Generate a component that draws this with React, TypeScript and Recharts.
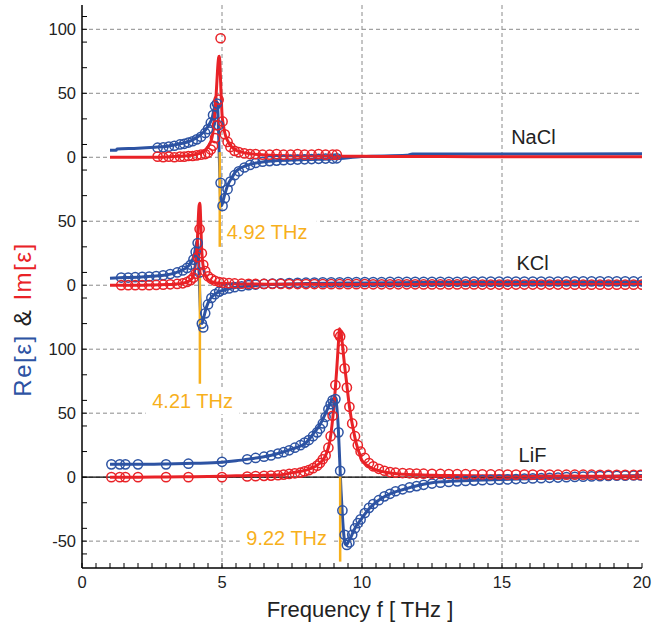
import React from 'react';
import {
  ComposedChart,
  Line,
  Scatter,
  XAxis,
  YAxis,
  CartesianGrid,
  ReferenceLine,
  ReferenceDot,
} from 'recharts';

const BLUE = '#2D53A3';
const RED = '#E92227';
const ORANGE = '#F7B01C';
const FONT = "'Liberation Sans', Arial, sans-serif";

// vertical offsets of the three stacked panels (plot units)
const OFFSET_NACL = 250;
const OFFSET_KCL = 150;
const OFFSET_LIF = 0;

// ---- NaCl ----
const naclLineF = [1.0, 1.22, 1.25, 2.0, 2.6, 3.0, 3.5, 3.9, 4.2, 4.4, 4.55, 4.65, 4.72, 4.78, 4.82, 4.86, 4.88, 4.9, 4.92, 4.94, 4.97, 5.0, 5.05, 5.1, 5.2, 5.35, 5.5, 5.7, 6.0, 6.5, 7.0, 8.0, 9.0, 10.0, 11.6, 11.8, 14.0, 17.0, 20.0];
const naclLineRe = [5.5, 5.5, 6.5, 7, 7.8, 8.5, 10.5, 13, 17, 21, 26, 31, 38, 44, 43, 32, 18, 3, -12, -28, -38, -37, -33, -29, -22, -16, -11, -8, -5.5, -3.5, -2.6, -1.8, -1.2, 0.5, 1.5, 2.5, 2.6, 2.6, 2.7];
const naclLineIm = [0, 0, 0, 0, 0.1, 0.3, 0.8, 1.5, 3, 5.5, 10, 16, 27, 45, 60, 74, 78, 79, 76, 65, 48, 34, 25, 19, 13, 8, 5.5, 4, 2.8, 1.8, 1.3, 1, 0.8, 0.7, 0.6, 0.6, 0.5, 0.5, 0.5];
const naclDotF = [2.7, 2.9, 3.1, 3.3, 3.5, 3.65, 3.8, 3.95, 4.1, 4.25, 4.4, 4.5, 4.6, 4.68, 4.75, 4.82, 4.88, 4.95, 5.02, 5.1, 5.2, 5.3, 5.45, 5.6, 5.8, 6.0, 6.2, 6.45, 6.7, 6.95, 7.2, 7.45, 7.7, 7.95, 8.2, 8.45, 8.7, 8.95, 9.1];
const naclDotRe = [7.5, 7.8, 8.3, 9, 10, 10.5, 11.5, 12.5, 14, 16, 19, 22, 27, 33, 40, 42, 25, -20, -38, -32, -25, -19, -14, -11, -8, -6, -4.5, -3.5, -3, -2.6, -2.3, -2, -1.8, -1.6, -1.4, -1.2, -1, -1, -0.8];
const naclDotIm = [0.5, 0, 0.5, 0, 0.5, 0.5, 1, 1, 1.5, 2, 2.5, 3.5, 6, 9, 15, 25, 45, 93, 28, 18, 12, 8, 5, 4, 3, 2.5, 2.5, 2, 2, 2.5, 2, 2, 2.5, 2, 2, 2.5, 2, 2, 2];

// ---- KCl ----
const kclLineF = [1.0, 1.5, 2.0, 2.5, 3.0, 3.3, 3.6, 3.8, 3.9, 3.97, 4.03, 4.08, 4.12, 4.15, 4.18, 4.21, 4.24, 4.27, 4.3, 4.35, 4.42, 4.5, 4.6, 4.75, 4.9, 5.1, 5.4, 5.8, 6.3, 7.0, 8.0, 10.0, 12.0, 15.0, 20.0];
const kclLineRe = [5.5, 6, 6.3, 7, 8, 9.5, 12, 15, 18, 21, 26, 32, 35, 28, 10, -10, -25, -30, -29, -25, -19, -14, -10, -7, -5, -3.5, -2, -1, 0, 0.8, 1.3, 1.8, 2.1, 2.3, 2.5];
const kclLineIm = [0, 0, 0, 0.2, 0.5, 0.8, 1.5, 3, 4.5, 7, 13, 22, 35, 50, 62, 64, 50, 30, 20, 12, 7, 4.5, 3, 2, 1.6, 1.3, 1.1, 1, 0.9, 0.8, 0.7, 0.6, 0.6, 0.5, 0.5];
const kclDotF = [1.4, 1.65, 1.9, 2.15, 2.4, 2.65, 2.9, 3.15, 3.4, 3.6, 3.75, 3.88, 3.98, 4.06, 4.13, 4.2, 4.28, 4.33, 4.4, 4.5, 4.62, 4.75, 4.9, 5.05, 5.25, 5.45, 5.7, 5.95, 6.2, 6.5, 6.8, 7.1, 7.4, 7.7, 8.0, 8.3, 8.6, 8.9, 9.2, 9.5, 9.8, 10.1, 10.4, 10.7, 11.0, 11.3, 11.6, 11.9, 12.2, 12.5, 12.8, 13.1, 13.4, 13.7, 14.0, 14.3, 14.6, 14.9, 15.2, 15.5, 15.8, 16.1, 16.4, 16.7, 17.0, 17.3, 17.6, 17.9, 18.2, 18.5, 18.8, 19.1, 19.4, 19.7, 20.0];
const kclDotRe = [6, 6, 6.3, 6.5, 6.8, 7.2, 7.8, 8.7, 10, 11.5, 13.5, 16, 20, 26, 33, 10, -30, -33, -22, -15, -10, -7, -5, -3.5, -2.5, -1.5, -0.8, 0, 0.5, 1, 1.3, 1.5, 1.7, 1.9, 2, 2.1, 2.2, 2.3, 2.3, 2.4, 2.4, 2.5, 2.5, 2.5, 2.6, 2.6, 2.6, 2.6, 2.7, 2.7, 2.7, 2.7, 2.7, 2.8, 2.8, 2.8, 2.8, 2.8, 2.8, 2.9, 2.9, 2.9, 2.9, 2.9, 2.9, 3, 3, 3, 3, 3, 3, 3, 3, 3, 3];
const kclDotIm = [0, 0, 0, 0, 0, 0.2, 0.4, 0.7, 1, 1.5, 2.5, 4, 6, 9, 22, 44, 25, 16, 11, 7, 5, 3.5, 2.5, 2, 1.6, 1.4, 1.2, 1.1, 1, 1, 1, 1, 0.9, 0.9, 0.9, 0.9, 0.8, 0.8, 0.8, 0.8, 0.8, 0.8, 0.7, 0.7, 0.7, 0.7, 0.7, 0.7, 0.6, 0.6, 0.6, 0.6, 0.6, 0.6, 0.6, 0.5, 0.5, 0.5, 0.5, 0.5, 0.5, 0.5, 0.5, 0.5, 0.5, 0.5, 0.4, 0.4, 0.4, 0.4, 0.4, 0.4, 0.4, 0.4, 0.4];

// ---- LiF ----
const lifLineF = [1.0, 2.0, 3.0, 4.0, 5.0, 5.5, 6.0, 6.5, 7.0, 7.5, 8.0, 8.3, 8.5, 8.7, 8.85, 8.95, 9.05, 9.1, 9.15, 9.2, 9.25, 9.3, 9.35, 9.4, 9.45, 9.5, 9.6, 9.7, 9.8, 9.9, 10.0, 10.2, 10.4, 10.7, 11.0, 11.5, 12.0, 12.5, 13.0, 14.0, 15.0, 16.0, 17.0, 18.0, 19.0, 20.0];
const lifLineRe = [10, 10, 10.3, 10.8, 11.7, 12.8, 14.3, 16, 18.5, 22, 27, 35, 41, 50, 57, 61, 62, 55, 40, 15, -10, -30, -45, -52, -53, -51, -47, -42, -38, -35, -32, -26, -21.5, -16.5, -13, -9.5, -6.5, -4.3, -3.5, -2.5, -1.8, -1.2, -0.6, 0.2, 0.8, 1.3];
const lifLineIm = [0, 0, 0.2, 0.4, 0.7, 1, 1.2, 1.4, 1.6, 3.5, 5.5, 8, 11, 17, 28, 45, 70, 85, 102, 116, 112, 104, 93, 83, 74, 64, 48, 36, 26, 19, 13, 9, 6.5, 4.5, 3.2, 2.2, 1.8, 1.5, 1.3, 1.1, 1, 0.9, 0.9, 0.8, 0.8, 0.8];
const lifDotF = [1.05, 1.35, 1.55, 2.0, 3.0, 3.8, 5.0, 5.9, 6.2, 6.5, 6.75, 7.0, 7.2, 7.4, 7.6, 7.8, 7.95, 8.1, 8.25, 8.4, 8.5, 8.6, 8.7, 8.8, 8.88, 8.95, 9.05, 9.16, 9.22, 9.3, 9.38, 9.46, 9.55, 9.65, 9.75, 9.85, 9.95, 10.1, 10.25, 10.4, 10.6, 10.8, 11.0, 11.2, 11.45, 11.7, 11.95, 12.2, 12.5, 12.8, 13.1, 13.4, 13.7, 14.0, 14.3, 14.6, 14.9, 15.2, 15.5, 15.8, 16.1, 16.4, 16.7, 17.0, 17.3, 17.6, 17.9, 18.2, 18.5, 18.8, 19.1, 19.4, 19.7, 19.95];
const lifDotRe = [10, 10, 10, 10, 10, 10.5, 12, 14, 15, 16, 17, 18.5, 19.5, 21, 23, 25, 27, 29, 32, 35, 38, 42, 47, 53, 57, 60, 61, 35, 5, -26, -45, -53, -51, -45, -40, -36, -33, -28, -24, -21, -18, -15, -13, -11, -9.5, -8, -7, -6, -5, -4.3, -3.8, -3.3, -3, -2.7, -2.4, -2.2, -2, -1.8, -1.5, -1.2, -1, -0.8, -0.5, -0.3, 0, 0.2, 0.4, 0.6, 0.8, 1, 1.1, 1.2, 1.3, 1.3];
const lifDotIm = [0, 0, 0, 0, 0, 0, 0, 0.5, 0.8, 1, 1.2, 1.5, 2, 2.5, 3, 3.5, 4.5, 5.5, 7, 9, 11, 14, 17, 23, 32, 48, 72, 112, 110, 100, 85, 70, 55, 42, 32, 25, 20, 15, 11, 8.5, 6.5, 5, 4, 3.5, 3.2, 3, 2.8, 2.7, 2.6, 2.5, 2.4, 2.3, 2.3, 2.2, 2.2, 2.1, 2.1, 2, 2, 2, 2, 2, 2, 1.9, 1.9, 1.9, 1.9, 1.9, 1.8, 1.8, 1.8, 1.8, 1.8, 1.8];

// resonance markers: vertical segment (top/bottom) and label position, in plot units
const resonances = [
  { f: 4.92, top: 254, bottom: 180, label: '4.92 THz', lx: 5.17, ly: 186, anchor: 'start' },
  { f: 4.21, top: 158, bottom: 73, label: '4.21 THz', lx: 3.95, ly: 54, anchor: 'middle' },
  { f: 9.22, top: 0.5, bottom: -66, label: '9.22 THz', lx: 7.31, ly: -53, anchor: 'middle' },
];

const materials = [
  { name: 'NaCl', x: 16.12, y: 260.4 },
  { name: 'KCl', x: 16.09, y: 161.9 },
  { name: 'LiF', x: 16.09, y: 12.1 },
];

// axis ticks
const xMajor = [0, 5, 10, 15, 20];
const xTicks = Array.from({ length: 41 }, (_, i) => i * 0.5);
const yMajor = [-50, 0, 50, 100, 150, 200, 250, 300, 350];
const yMajorLabels = ['-50', '0', '50', '100', '0', '50', '0', '50', '100'];
const yMinor = Array.from({ length: 22 }, (_, i) => -60 + i * 20);
const yTicks = Array.from(new Set([...yMajor, ...yMinor])).sort((a, b) => a - b);

const build = (f: number[], v: number[], off: number) => f.map((x, i) => ({ x, y: v[i] + off }));

const lines = [
  { key: 'naclRe', data: build(naclLineF, naclLineRe, OFFSET_NACL), color: BLUE },
  { key: 'naclIm', data: build(naclLineF, naclLineIm, OFFSET_NACL), color: RED },
  { key: 'kclRe', data: build(kclLineF, kclLineRe, OFFSET_KCL), color: BLUE },
  { key: 'kclIm', data: build(kclLineF, kclLineIm, OFFSET_KCL), color: RED },
  { key: 'lifRe', data: build(lifLineF, lifLineRe, OFFSET_LIF), color: BLUE },
  { key: 'lifIm', data: build(lifLineF, lifLineIm, OFFSET_LIF), color: RED },
];

const dots = [
  { key: 'naclReD', data: build(naclDotF, naclDotRe, OFFSET_NACL), color: BLUE },
  { key: 'naclImD', data: build(naclDotF, naclDotIm, OFFSET_NACL), color: RED },
  { key: 'kclReD', data: build(kclDotF, kclDotRe, OFFSET_KCL), color: BLUE },
  { key: 'kclImD', data: build(kclDotF, kclDotIm, OFFSET_KCL), color: RED },
  { key: 'lifReD', data: build(lifDotF, lifDotRe, OFFSET_LIF), color: BLUE },
  { key: 'lifImD', data: build(lifDotF, lifDotIm, OFFSET_LIF), color: RED },
];

const openCircle = (color: string) => (props: any) => (
  <circle cx={props.cx} cy={props.cy} r={4.6} fill="none" stroke={color} strokeWidth={1.5} />
);

const YTitle = (props: any) => {
  const vb = props.viewBox || { x: 0, y: 0, height: 0 };
  const cx = vb.x + 9;
  const cy = vb.y + vb.height / 2 + 33;
  return (
    <text
      x={0}
      y={0}
      transform={`translate(${cx},${cy}) rotate(-90)`}
      textAnchor="middle"
      fontSize={24}
      letterSpacing={1.5}
      fontFamily={FONT}
    >
      <tspan fill={BLUE}>Re[ε]</tspan>
      <tspan fill="#222"> &amp; </tspan>
      <tspan fill={RED}>Im[ε]</tspan>
    </text>
  );
};

const XTitle = (props: any) => {
  const vb = props.viewBox || { x: 0, y: 0, width: 0 };
  return (
    <text x={vb.x + vb.width / 2 - 2} y={617} textAnchor="middle" fontSize={22} fontFamily={FONT} fill="#222">
      Frequency f [ THz ]
    </text>
  );
};

const ResLabel = (text: string, anchor: string) => (props: any) => {
  const w = 84;
  const left = anchor === 'start' ? props.cx - 4 : props.cx - w / 2 - 5;
  return (
    <g>
      <rect x={left} y={props.cy - 20} width={w + 10} height={26} fill="#fff" />
      <text
        x={props.cx}
        y={props.cy}
        textAnchor={anchor as any}
        fontSize={20}
        fontFamily={FONT}
        fill={ORANGE}
      >
        {text}
      </text>
    </g>
  );
};

const NameLabel = (text: string) => (props: any) => (
  <text x={props.cx} y={props.cy} textAnchor="middle" fontSize={20} fontFamily={FONT} fill="#222">
    {text}
  </text>
);

export default function App() {
  return (
    <div style={{ position: 'absolute', left: 0, top: 0, background: '#fff' }}>
      <ComposedChart width={652} height={624} margin={{ top: 5, right: 10, bottom: 26, left: 22 }}>
        <CartesianGrid
          xAxisId="b"
          yAxisId="l"
          stroke="#8a8a8a"
          strokeDasharray="4 3"
          horizontalValues={yMajor}
          verticalValues={[5, 10, 15]}
        />
        <XAxis
          xAxisId="b"
          dataKey="x"
          type="number"
          domain={[0, 20]}
          allowDataOverflow
          ticks={xTicks}
          interval={0}
          tickFormatter={(v: number) => (xMajor.includes(v) ? String(v) : '')}
          tickSize={-5}
          tickMargin={13}
          height={30}
          axisLine={{ stroke: '#000', strokeWidth: 1.5 }}
          tickLine={{ stroke: '#000' }}
          tick={{ fontSize: 16.5, fill: '#222', fontFamily: FONT }}
          label={<XTitle />}
        />
        <XAxis
          xAxisId="t"
          orientation="top"
          type="number"
          domain={[0, 20]}
          allowDataOverflow
          ticks={xTicks}
          interval={0}
          tickFormatter={() => ''}
          tickSize={-5}
          height={0}
          axisLine={{ stroke: '#000', strokeWidth: 1.5 }}
          tickLine={{ stroke: '#000' }}
        />
        <YAxis
          yAxisId="l"
          dataKey="y"
          type="number"
          domain={[-71, 369]}
          allowDataOverflow
          ticks={yTicks}
          interval={0}
          tickFormatter={(v: number) => {
            const i = yMajor.indexOf(v);
            return i >= 0 ? yMajorLabels[i] : '';
          }}
          tickSize={-5}
          tickMargin={11}
          width={60}
          axisLine={{ stroke: '#000', strokeWidth: 1.5 }}
          tickLine={{ stroke: '#000' }}
          tick={{ fontSize: 16.5, fill: '#222', fontFamily: FONT }}
          label={<YTitle />}
        />
        <YAxis
          yAxisId="r"
          orientation="right"
          type="number"
          domain={[-71, 369]}
          allowDataOverflow
          ticks={yTicks}
          interval={0}
          tickFormatter={() => ''}
          tickSize={-5}
          width={0}
          axisLine={{ stroke: '#000', strokeWidth: 1.5 }}
          tickLine={{ stroke: '#000' }}
        />
        <ReferenceLine xAxisId="b" yAxisId="l" y={0} stroke="#000" strokeWidth={1.3} />
        {resonances.map((r) => (
          <ReferenceDot
            key={'lab' + r.label}
            xAxisId="b"
            yAxisId="l"
            x={r.lx}
            y={r.ly}
            shape={ResLabel(r.label, r.anchor)}
          />
        ))}
        {materials.map((m) => (
          <ReferenceDot key={m.name} xAxisId="b" yAxisId="l" x={m.x} y={m.y} shape={NameLabel(m.name)} />
        ))}
        {dots.map((d) => (
          <Scatter
            key={d.key}
            xAxisId="b"
            yAxisId="l"
            data={d.data}
            dataKey="y"
            shape={openCircle(d.color)}
            isAnimationActive={false}
          />
        ))}
        {lines.map((l) => (
          <Line
            key={l.key}
            xAxisId="b"
            yAxisId="l"
            data={l.data}
            dataKey="y"
            type="monotone"
            stroke={l.color}
            strokeWidth={3}
            dot={false}
            activeDot={false}
            isAnimationActive={false}
          />
        ))}
        {resonances.map((r) => (
          <ReferenceLine
            key={'seg' + r.label}
            xAxisId="b"
            yAxisId="l"
            segment={[
              { x: r.f, y: r.top },
              { x: r.f, y: r.bottom },
            ]}
            stroke={ORANGE}
            strokeWidth={2.5}
          />
        ))}
      </ComposedChart>
    </div>
  );
}
